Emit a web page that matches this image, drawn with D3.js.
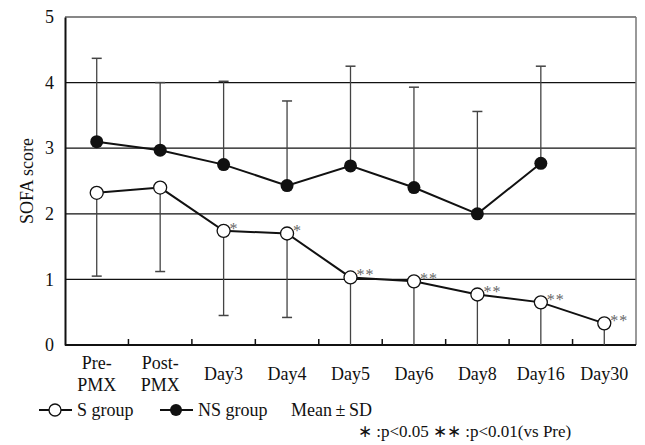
<!DOCTYPE html>
<html>
<head>
<meta charset="utf-8">
<script src="https://d3js.org/d3.v7.min.js"></script>
<style>
body { margin: 0; background: #fff; }
</style>
</head>
<body>
<svg id="chart" width="645" height="445"></svg>
<script>
// categories and values
var days = ["Pre-PMX", "Post-PMX", "Day3", "Day4", "Day5", "Day6", "Day8", "Day16", "Day30"];
var sMean = [2.32, 2.40, 1.74, 1.70, 1.03, 0.97, 0.77, 0.65, 0.33];
var sLow = [1.05, 1.12, 0.45, 0.42, 0, 0, 0, 0, 0];
var nsMean = [3.10, 2.97, 2.75, 2.43, 2.73, 2.40, 2.00, 2.77];
var nsHigh = [4.37, 4.00, 4.02, 3.72, 4.25, 3.93, 3.56, 4.25];
var stars = ["", "", "*", "*", "**", "**", "**", "**", "**"];
var yTicks = [0, 1, 2, 3, 4, 5];

var serif = "'Liberation Serif', 'Times New Roman', serif";
var svg = d3.select("#chart").style("font-family", serif);
var pLeft = 65, pRight = 636, pTop = 17, pBottom = 345;

var x = d3.scaleBand().domain(days).range([pLeft, pRight]);
var y = d3.scaleLinear().domain([0, 5]).range([pBottom, pTop]);
function cx(i) { return x(days[i]) + x.bandwidth() / 2; }

// gridlines
svg.selectAll(".grid").data(yTicks.slice(1))
  .enter().append("line")
  .attr("x1", pLeft).attr("x2", pRight)
  .attr("y1", function(d) { return y(d); }).attr("y2", function(d) { return y(d); })
  .attr("stroke", "#111").attr("stroke-width", 1.2);
// right border
svg.append("line").attr("x1", pRight).attr("x2", pRight).attr("y1", pTop).attr("y2", pBottom)
  .attr("stroke", "#777").attr("stroke-width", 1.5);

// y axis
var yAxis = svg.append("g").attr("transform", "translate(" + pLeft + ",0)")
  .call(d3.axisLeft(y).tickValues(yTicks).tickFormat(d3.format("d")).tickSize(0).tickPadding(11));
yAxis.attr("font-family", null).attr("font-size", null);
yAxis.select(".domain").attr("stroke", "#111").attr("stroke-width", 2);
yAxis.selectAll("text").style("font-size", "18px").style("font-family", serif).attr("fill", "#111");

// x axis: ticks between categories pointing up
var xb = svg.append("g");
xb.append("line").attr("x1", pLeft).attr("x2", pRight).attr("y1", pBottom).attr("y2", pBottom)
  .attr("stroke", "#111").attr("stroke-width", 2);
xb.selectAll(".tk").data(days.slice(1))
  .enter().append("line")
  .attr("x1", function(d) { return x(d); }).attr("x2", function(d) { return x(d); })
  .attr("y1", pBottom).attr("y2", pBottom - 6)
  .attr("stroke", "#111").attr("stroke-width", 1.5);
xb.selectAll(".lab").data(days)
  .enter().append("text")
  .attr("text-anchor", "middle")
  .style("font-size", "18px").attr("fill", "#111")
  .attr("x", function(d) { return x(d) + x.bandwidth() / 2; })
  .each(function(d) {
    var t = d3.select(this);
    if (d.indexOf("-") > 0) {
      var parts = d.split("-");
      t.append("tspan").attr("x", t.attr("x")).attr("y", 369).text(parts[0] + "-");
      t.append("tspan").attr("x", t.attr("x")).attr("y", 391).text(parts[1]);
    } else {
      t.attr("y", 380).text(d);
    }
  });

// y title
svg.append("text").attr("transform", "translate(33," + (pTop + pBottom) / 2 + ") rotate(-90)")
  .attr("text-anchor", "middle").style("font-size", "18px").attr("fill", "#111").text("SOFA score");

// error bars
function bars(means, ends) {
  var g = svg.append("g");
  means.forEach(function(m, i) {
    var e = ends[i];
    g.append("line").attr("x1", cx(i)).attr("x2", cx(i))
      .attr("y1", y(m)).attr("y2", y(e)).attr("stroke", "#444").attr("stroke-width", 1.3);
    if (e > 0) {
      g.append("line").attr("x1", cx(i) - 5).attr("x2", cx(i) + 5)
        .attr("y1", y(e)).attr("y2", y(e)).attr("stroke", "#444").attr("stroke-width", 1.5);
    }
  });
}
bars(nsMean, nsHigh);
bars(sMean, sLow);

var line = d3.line().x(function(d, i) { return cx(i); }).y(function(d) { return y(d); });
svg.append("path").attr("d", line(nsMean)).attr("fill", "none").attr("stroke", "#111").attr("stroke-width", 2);
svg.append("path").attr("d", line(sMean)).attr("fill", "none").attr("stroke", "#111").attr("stroke-width", 2);

svg.selectAll(".ns").data(nsMean).enter().append("circle")
  .attr("cx", function(d, i) { return cx(i); }).attr("cy", function(d) { return y(d); })
  .attr("r", 6.5).attr("fill", "#111");
svg.selectAll(".s").data(sMean).enter().append("circle")
  .attr("cx", function(d, i) { return cx(i); }).attr("cy", function(d) { return y(d); })
  .attr("r", 6.5).attr("fill", "#fff").attr("stroke", "#111").attr("stroke-width", 1.3);

// significance marks
svg.selectAll(".st").data(sMean).enter().append("text")
  .attr("x", function(d, i) { return cx(i) + 6; })
  .attr("y", function(d) { return y(d) + 3; })
  .style("font-size", "16px").attr("fill", "#666").attr("letter-spacing", "1px")
  .text(function(d, i) { return stars[i]; });

// legend
var lg = svg.append("g").attr("fill", "#111");
lg.append("line").attr("x1", 39).attr("x2", 72).attr("y1", 410).attr("y2", 410).attr("stroke", "#111").attr("stroke-width", 2);
lg.append("circle").attr("cx", 55).attr("cy", 410).attr("r", 6).attr("fill", "#fff").attr("stroke", "#111").attr("stroke-width", 1.3);
lg.append("text").attr("x", 77).attr("y", 416).style("font-size", "18px").text("S group");
lg.append("line").attr("x1", 160).attr("x2", 193).attr("y1", 410).attr("y2", 410).attr("stroke", "#111").attr("stroke-width", 2);
lg.append("circle").attr("cx", 176).attr("cy", 410).attr("r", 6).attr("fill", "#111");
lg.append("text").attr("x", 198).attr("y", 416).style("font-size", "18px").text("NS group");
lg.append("text").attr("x", 291).attr("y", 416).style("font-size", "18px").text("Mean\u2009\u00b1\u2009SD");
lg.append("text").attr("x", 358).attr("y", 437).style("font-size", "17px")
  .text("\u2217 :p<0.05 \u2217\u2217 :p<0.01(vs Pre)");
</script>
</body>
</html>
